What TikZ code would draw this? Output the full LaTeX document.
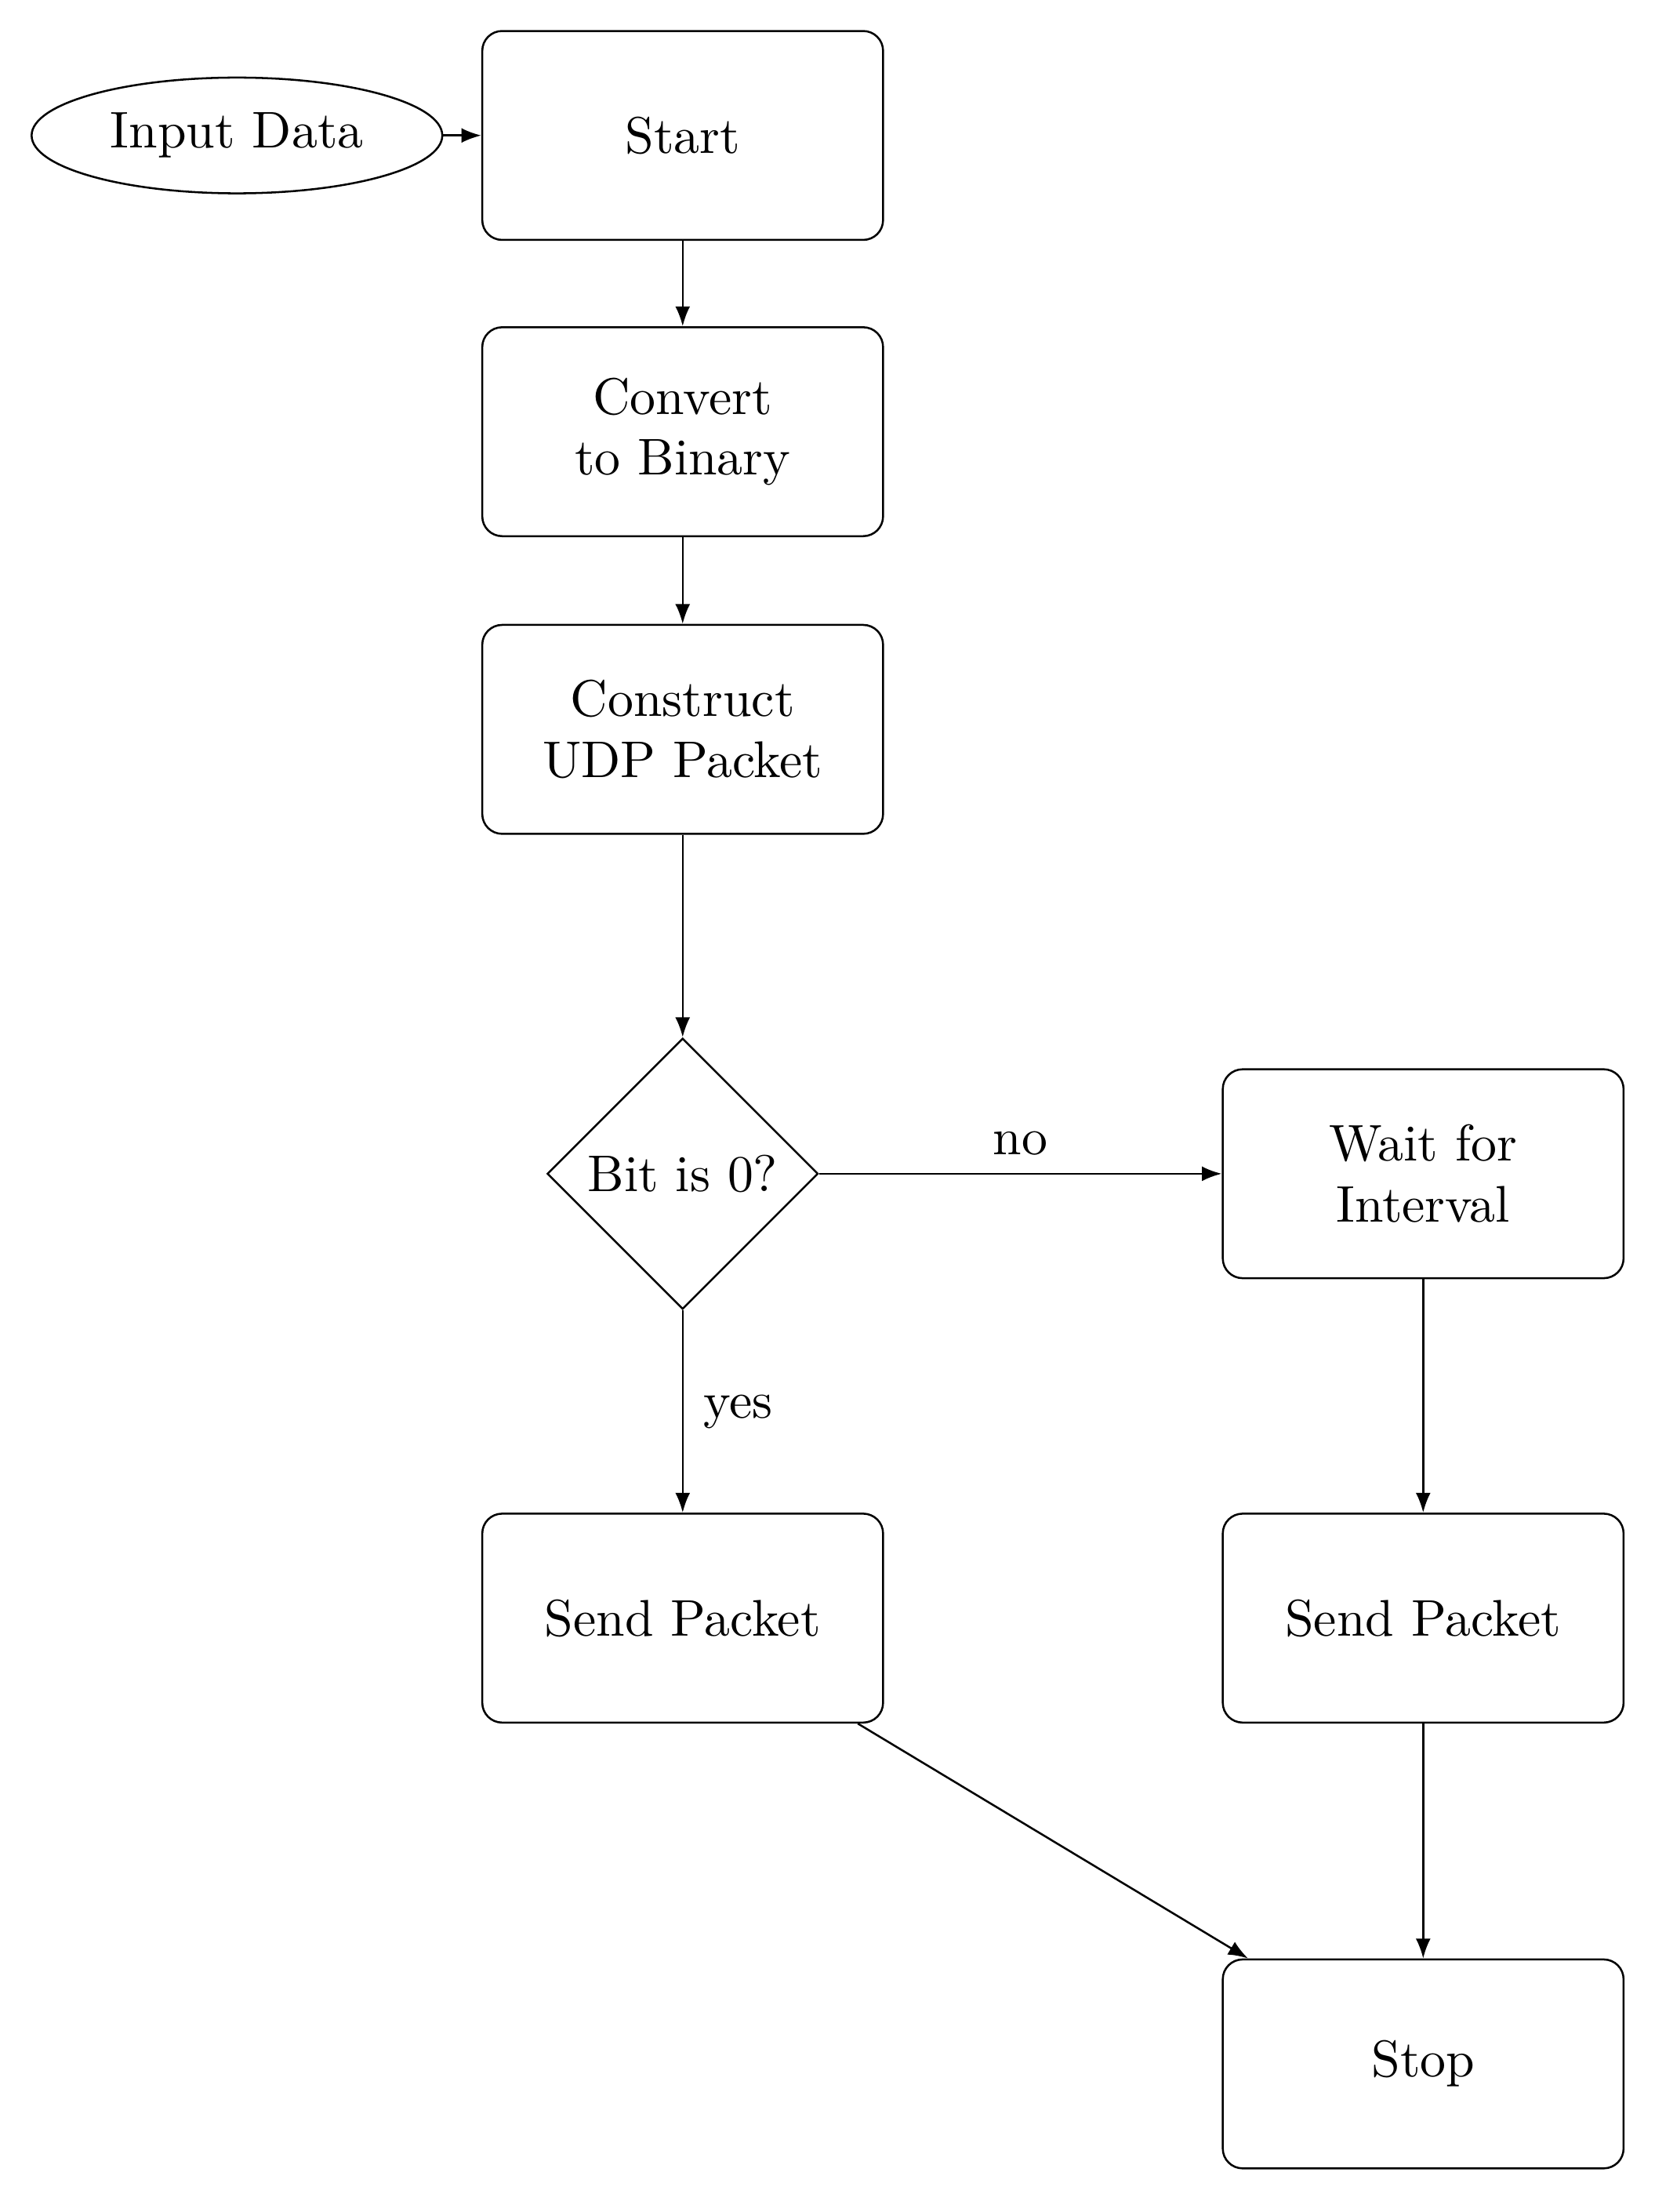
\documentclass[tikz,border=0pt]{standalone}
\usetikzlibrary{shapes.geometric,arrows.meta}
\begin{document}
\begin{tikzpicture}[x=0.01cm,y=-0.01cm,
  every node/.style={font=\fontsize{10.4}{12.3}\selectfont},
  box/.style={draw,rounded corners=4pt,minimum width=2.84cm,minimum height=1.48cm,align=center,inner sep=2pt},
  term/.style={draw,ellipse,minimum width=2.91cm,minimum height=0.82cm,inner sep=0pt},
  dec/.style={draw,diamond,aspect=1,minimum width=1.92cm,minimum height=1.92cm,inner sep=0pt},
  arr/.style={-{Latex[length=4pt,width=3pt]},line width=0.4pt},
  lbl/.style={inner sep=0pt}]
\useasboundingbox (0,0) rectangle (1173,1568);
\node[term] (input) at (168,96) {Input Data};
\node[box] (start) at (484,96) {Start};
\node[box] (conv) at (484,306) {Convert\\to Binary};
\node[box] (cons) at (484,517) {Construct\\UDP Packet};
\node[dec] (bit) at (484,832) {Bit is 0?};
\node[box] (wait) at (1009,832) {Wait for\\Interval};
\node[box] (send1) at (484,1147) {Send Packet};
\node[box] (send2) at (1009,1147) {Send Packet};
\node[box] (stop) at (1009,1463) {Stop};
\draw[arr] (input) -- (start);
\draw[arr] (start) -- (conv);
\draw[arr] (conv) -- (cons);
\draw[arr] (cons) -- (bit);
\draw[arr] (bit) -- node[lbl,above=3.5pt] {no} (wait);
\draw[arr] (bit) -- node[lbl,right=4pt] {yes} (send1);
\draw[arr] (wait) -- (send2);
\draw[arr] (send1) -- (stop);
\draw[arr] (send2) -- (stop);
\end{tikzpicture}
\end{document}
